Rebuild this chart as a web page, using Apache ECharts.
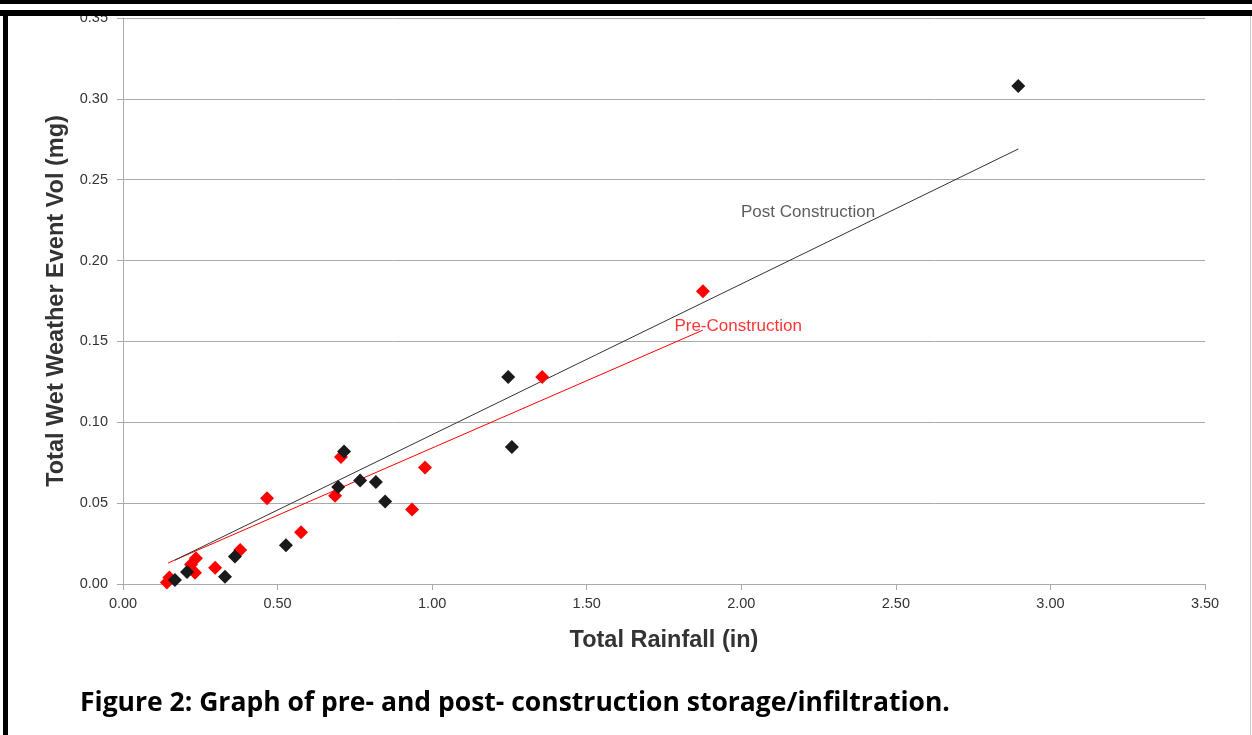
<!DOCTYPE html>
<html>
<head>
<meta charset="utf-8">
<script src="https://cdn.jsdelivr.net/npm/echarts@6/dist/echarts.min.js"></script>
<style>
html,body{margin:0;padding:0;background:#fff;}
#c{width:1252px;height:735px;}
</style>
</head>
<body>
<div id="c"></div>
<script>
// Data: [rainfall (in), volume (mg)]
const postPoints = [
  [0.168, 0.0025], [0.207, 0.0074], [0.330, 0.0045], [0.362, 0.017],
  [0.527, 0.024], [0.696, 0.060], [0.715, 0.082], [0.767, 0.064],
  [0.818, 0.063], [0.848, 0.051], [1.246, 0.128], [1.258, 0.0847],
  [2.896, 0.308]
];
const prePoints = [
  [0.142, 0.001], [0.150, 0.004], [0.220, 0.012], [0.233, 0.007], [0.236, 0.016],
  [0.298, 0.010], [0.379, 0.021], [0.466, 0.053], [0.576, 0.032],
  [0.686, 0.0545], [0.705, 0.0785], [0.935, 0.046], [0.977, 0.072],
  [1.356, 0.128], [1.876, 0.181]
];
// Trend line end points as drawn
const postTrend = [[0.168, 0.0148], [2.896, 0.269]];
const preTrend = [[0.146, 0.013], [1.876, 0.157]];
// Line labels
const postLabelPos = [[2.216, 0.230]];
const preLabelPos = [[1.99, 0.1596]];
const xTicks = ['0.00','0.50','1.00','1.50','2.00','2.50','3.00','3.50'];
const yTicks = ['0.00','0.05','0.10','0.15','0.20','0.25','0.30','0.35'];

const chart = echarts.init(document.getElementById('c'), null, {renderer:'canvas'});
const tickFont = {fontFamily:'Liberation Sans', fontSize:14.5, color:'#333'};
chart.setOption({
  animation:false,
  backgroundColor:'#fff',
  grid:{left:123, right:47, top:18, bottom:151, containLabel:false},
  xAxis:{
    type:'value', min:0, max:3.5, interval:0.5,
    name:'Total Rainfall (in)', nameLocation:'middle', nameGap:45,
    nameTextStyle:{fontFamily:'Liberation Sans', fontWeight:'bold', fontSize:23.5, color:'#333'},
    axisLine:{show:true, lineStyle:{color:'#aaa', width:1}},
    axisTick:{show:true, length:6, lineStyle:{color:'#aaa'}},
    axisLabel:Object.assign({margin:12, formatter:(v)=>xTicks[Math.round(v/0.5)]}, tickFont),
    splitLine:{show:false}
  },
  yAxis:{
    type:'value', min:0, max:0.35, interval:0.05,
    name:'Total Wet Weather Event Vol (mg)', nameLocation:'middle', nameGap:53,
    nameTextStyle:{fontFamily:'Liberation Sans', fontWeight:'bold', fontSize:23.5, color:'#333'},
    axisLine:{show:true, lineStyle:{color:'#aaa', width:1}},
    axisTick:{show:true, length:6, lineStyle:{color:'#aaa'}},
    axisLabel:Object.assign({margin:15, formatter:(v)=>yTicks[Math.round(v/0.05)]}, tickFont),
    splitLine:{show:true, lineStyle:{color:'#aaa', width:1}}
  },
  graphic:[
    {type:'rect', shape:{x:0,y:0,width:1252,height:4}, style:{fill:'#000'}, z:100},
    {type:'rect', shape:{x:0,y:10,width:1252,height:6}, style:{fill:'#000'}, z:100},
    {type:'rect', shape:{x:3,y:10,width:5,height:725}, style:{fill:'#000'}, z:100},
    {type:'rect', shape:{x:1250,y:16,width:1,height:719}, style:{fill:'#ccc'}, z:100},
    {type:'text', left:80, top:690, z:100,
      style:{text:'Figure 2: Graph of pre- and post- construction storage/infiltration.',
        fontFamily:'Open Sans', fontWeight:'bold', fontSize:26.5, fill:'#000'}}
  ],
  series:[
    {type:'line', data:preTrend, symbol:'none', lineStyle:{color:'#ff0000', width:1}, z:2},
    {type:'line', data:postTrend, symbol:'none', lineStyle:{color:'#333', width:1}, z:2},
    {type:'scatter', data:prePoints, symbol:'diamond', symbolSize:14, itemStyle:{color:'#ff0000', opacity:1}, z:3},
    {type:'scatter', data:postPoints, symbol:'diamond', symbolSize:14, itemStyle:{color:'#1a1a1a', opacity:1}, z:4},
    {type:'scatter', data:postLabelPos, symbolSize:0, z:5,
      label:{show:true, position:'inside', formatter:'Post Construction', fontFamily:'Liberation Sans', fontSize:17, color:'#333'}},
    {type:'scatter', data:preLabelPos, symbolSize:0, z:5,
      label:{show:true, position:'inside', formatter:'Pre-Construction', fontFamily:'Liberation Sans', fontSize:17, color:'#ff0000'}}
  ]
});
</script>
</body>
</html>
